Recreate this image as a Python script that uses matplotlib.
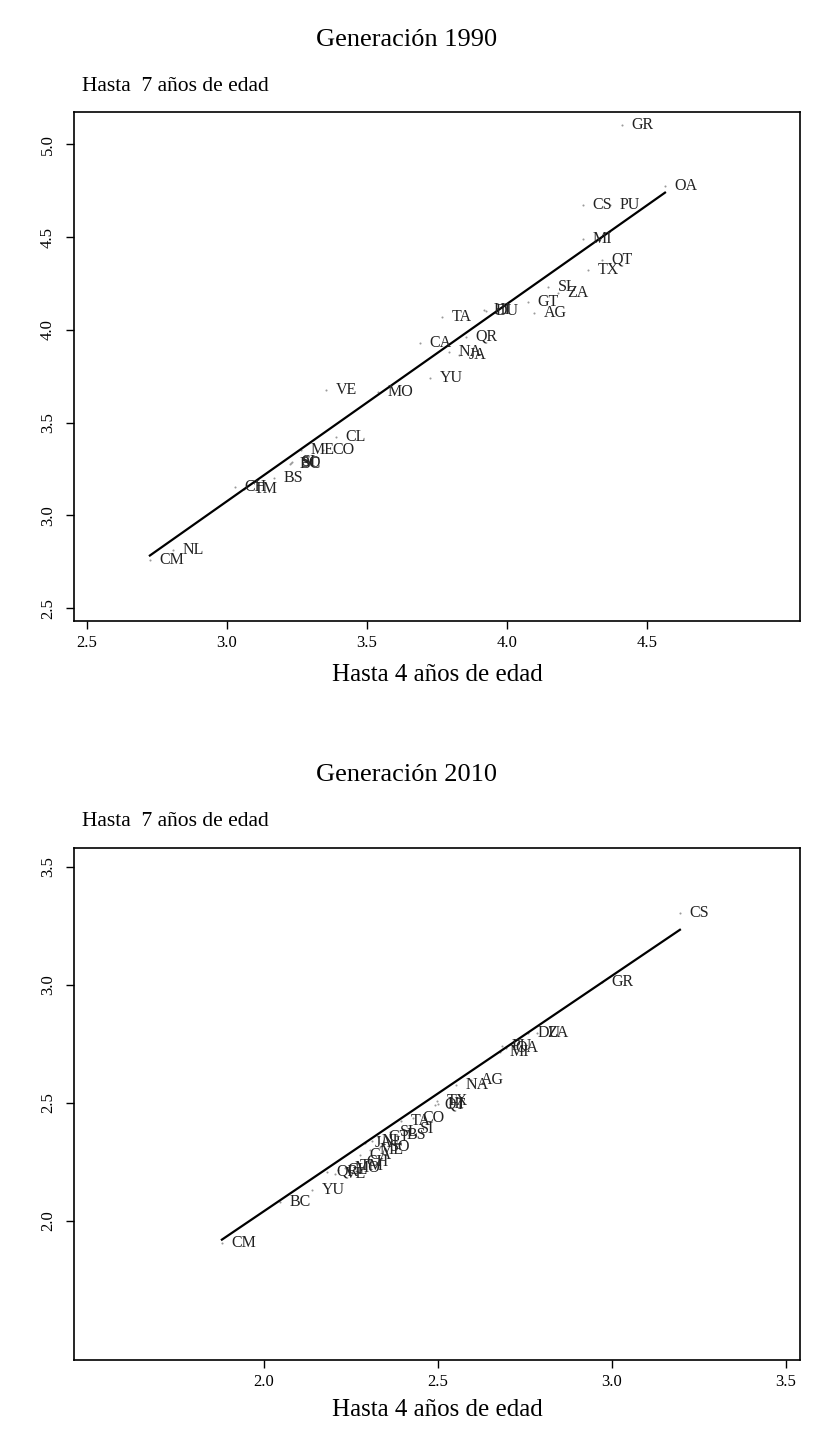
import matplotlib
matplotlib.use("Agg")
from matplotlib import pyplot as plt
import numpy as np

plt.rcParams['font.family'] = ['Liberation Serif', 'DejaVu Serif']

# Generacion 1990: (hasta 4 anios, hasta 7 anios) por entidad
states_1990 = ['GR', 'OA', 'CS', 'PU', 'MI', 'QT', 'TX', 'SL', 'ZA', 'GT', 'AG',
               'HI', 'DU', 'TA', 'QR', 'CA', 'NA', 'JA', 'YU', 'VE', 'MO', 'CL',
               'ME', 'CO', 'SO', 'SI', 'BC', 'BS', 'CH', 'TM', 'CM', 'NL']
x_1990 = [4.411, 4.564, 4.271, 4.368, 4.271, 4.339, 4.289, 4.146, 4.182, 4.075, 4.096,
          3.918, 3.925, 3.768, 3.854, 3.689, 3.793, 3.829, 3.725, 3.354, 3.539, 3.389,
          3.264, 3.343, 3.229, 3.232, 3.225, 3.168, 3.029, 3.061, 2.725, 2.807]
y_1990 = [5.105, 4.776, 4.674, 4.674, 4.491, 4.378, 4.324, 4.232, 4.200, 4.151, 4.092,
          4.108, 4.103, 4.071, 3.963, 3.930, 3.882, 3.866, 3.742, 3.677, 3.666, 3.424,
          3.353, 3.353, 3.283, 3.289, 3.278, 3.203, 3.155, 3.144, 2.761, 2.815]
# fitted line: slope, intercept
fit_1990 = (1.064, -0.116)

# Generacion 2010
states_2010 = ['CS', 'GR', 'DU', 'ZA', 'MI', 'OA', 'PU', 'NA', 'AG', 'QT', 'TX',
               'HI', 'CO', 'TA', 'BS', 'SI', 'JA', 'GT', 'ME', 'SO', 'CH', 'QR',
               'CL', 'VE', 'MO', 'SL', 'TM', 'NL', 'CA', 'YU', 'BC', 'CM']
x_2010 = [3.195, 2.971, 2.759, 2.785, 2.678, 2.695, 2.684, 2.552, 2.595, 2.491, 2.497,
          2.500, 2.428, 2.394, 2.382, 2.420, 2.290, 2.328, 2.305, 2.333, 2.267, 2.181,
          2.213, 2.204, 2.233, 2.362, 2.247, 2.310, 2.276, 2.138, 2.046, 1.879]
y_2010 = [3.305, 3.013, 2.797, 2.797, 2.716, 2.733, 2.742, 2.576, 2.597, 2.492, 2.508,
          2.496, 2.436, 2.424, 2.364, 2.390, 2.331, 2.356, 2.301, 2.314, 2.250, 2.208,
          2.216, 2.199, 2.225, 2.377, 2.233, 2.339, 2.280, 2.131, 2.081, 1.907]
fit_2010 = (0.998, 0.045)

panels = [
    dict(title='Generación 1990', x=x_1990, y=y_1990, labels=states_1990, fit=fit_1990,
         xticks=[2.5, 3.0, 3.5, 4.0, 4.5], yticks=[2.5, 3.0, 3.5, 4.0, 4.5, 5.0],
         xlim=(2.454, 5.046), ylim=(2.43, 5.175),
         rect=[0.091, 0.5696, 0.893, 0.3528], title_y=0.9723, sub_y=0.9404, xl_y=0.5322),
    dict(title='Generación 2010', x=x_2010, y=y_2010, labels=states_2010, fit=fit_2010,
         xticks=[2.0, 2.5, 3.0, 3.5], yticks=[2.0, 2.5, 3.0, 3.5],
         xlim=(1.454, 3.54), ylim=(1.41, 3.58),
         rect=[0.091, 0.0575, 0.893, 0.3548], title_y=0.4629, sub_y=0.4304, xl_y=0.0229),
]

fig = plt.figure(figsize=(8.13, 14.43), dpi=100)

for p in panels:
    ax = fig.add_axes(p['rect'])
    xs = np.array(p['x'])
    ys = np.array(p['y'])
    ax.plot(xs, ys, 'o', ms=1.5, color='#9a9a9a', mec='none')
    for lab, xv, yv in zip(p['labels'], xs, ys):
        ax.annotate(lab, (xv, yv), xytext=(7, 0), textcoords='offset points',
                    ha='left', va='center', fontsize=11.5, color='#222222')
    # fitted line over the data range
    slope, icpt = p['fit']
    fx = np.array([xs.min(), xs.max()])
    ax.plot(fx, icpt + slope * fx, color='black', lw=1.6)

    ax.set_xlim(*p['xlim'])
    ax.set_ylim(*p['ylim'])
    ax.set_xticks(p['xticks'])
    ax.set_yticks(p['yticks'])
    ax.set_xticklabels(['%.1f' % v for v in p['xticks']], fontsize=12)
    ax.set_yticklabels(['%.1f' % v for v in p['yticks']], fontsize=12,
                       rotation=90, va='center')
    ax.tick_params(axis='both', direction='out', length=6, width=1, color='black')
    ax.tick_params(axis='x', pad=4)
    ax.tick_params(axis='y', pad=7)
    for sp in ax.spines.values():
        sp.set_linewidth(1.2)

    cx = p['rect'][0] + p['rect'][2] / 2
    fig.text(0.5, p['title_y'], p['title'], ha='center', va='center', fontsize=19)
    fig.text(0.101, p['sub_y'], 'Hasta  7 años de edad', ha='left', va='center', fontsize=15.5)
    fig.text(cx, p['xl_y'], 'Hasta 4 años de edad', ha='center', va='center', fontsize=18)

fig.savefig('out.png', dpi=100)
